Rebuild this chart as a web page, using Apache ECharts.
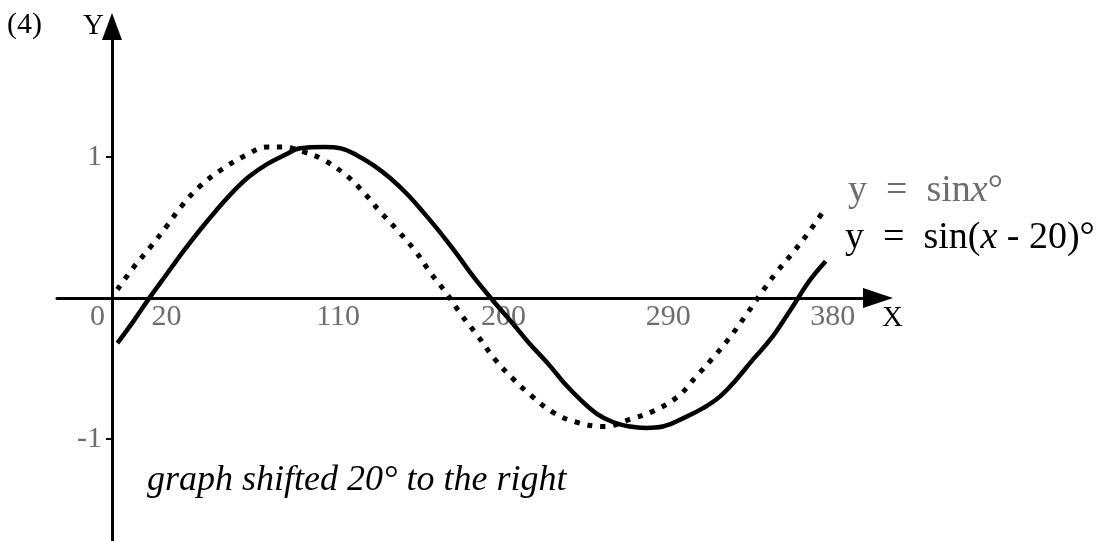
<!DOCTYPE html>
<html lang="en">
<head>
<meta charset="UTF-8">
<title>y = sin x° and y = sin(x - 20)°</title>
<script src="https://cdn.jsdelivr.net/npm/echarts@6/dist/echarts.min.js"></script>
<style>
  html, body { margin: 0; padding: 0; background: #fff; }
</style>
</head>
<body>
<div id="main" style="width: 1098px;height:541px;"></div>
<script>
  // values (x in degrees, y in units)
  const xTicks = [20, 110, 200, 290, 380];
  const yTicks = [-1, 1];

  // y = sin x°  (dotted)
  const sinX = [3, 12, 21, 30, 38, 48, 60, 73, 85, 93, 99, 106, 114, 126, 136, 146, 156, 166, 174, 183,
    191, 200, 209, 219, 229, 241, 254, 269, 283, 296, 309, 319, 328, 337, 346, 354, 363, 372, 381, 389];
  const sinY = [0.06, 0.22, 0.36, 0.51, 0.65, 0.79, 0.91, 1.01, 1.07, 1.07, 1.06, 1.03, 0.99, 0.89, 0.77, 0.62, 0.48, 0.33, 0.18, 0.03,
    -0.12, -0.27, -0.43, -0.57, -0.69, -0.81, -0.88, -0.91, -0.86, -0.80, -0.70, -0.56, -0.43, -0.29, -0.13, 0.02, 0.18, 0.32, 0.47, 0.62];

  // y = sin(x - 20)°  (solid)
  const shiftX = [3, 12, 21, 30, 39, 48, 57, 66, 75, 85, 94, 103, 116, 125, 134, 143, 152, 161, 170, 179, 188, 197,
    207, 219, 228, 238, 247, 256, 265, 274, 283, 292, 301, 314, 323, 332, 341, 350, 360, 369, 375, 381, 390];
  const shiftY = [-0.32, -0.16, 0.01, 0.17, 0.33, 0.48, 0.62, 0.75, 0.86, 0.95, 1.01, 1.06, 1.07, 1.06, 1.01, 0.94, 0.85, 0.74, 0.61, 0.47, 0.32, 0.16,
    0.00, -0.18, -0.32, -0.46, -0.60, -0.72, -0.82, -0.88, -0.91, -0.92, -0.91, -0.84, -0.78, -0.70, -0.58, -0.44, -0.29, -0.12, 0.00, 0.12, 0.26];

  const serif = '"Liberation Serif", "DejaVu Serif", serif';
  const grey = '#6d6d6d';

  const pairs = (xs, ys) => xs.map((x, i) => [x, ys[i]]);

  // the axes cross inside the grid: moved there with negative offsets
  const xMin = -30, xMax = 418.6;
  const xOffset = -243, yOffset = -55;

  const myChart = echarts.init(document.getElementById('main'));
  const option = {
    animation: false,
    grid: { left: 57, right: 220, top: 26.5, bottom: 0, containLabel: false, outerBoundsMode: 'none' },
    xAxis: [
      {
        type: 'value',
        min: xMin,
        max: xMax,
        offset: xOffset,
        splitLine: { show: false },
        axisTick: { show: false },
        axisLine: {
          onZero: false,
          lineStyle: { color: '#000', width: 3 },
          symbol: ['none', 'triangle'],
          symbolSize: [20, 30]
        },
        axisLabel: {
          customValues: xTicks,
          align: 'left',
          verticalAlign: 'top',
          margin: 4,
          padding: [0, 0, 0, 3],
          color: grey,
          fontFamily: serif,
          fontSize: 30
        }
      },
      {
        // only the "0" left of the origin
        type: 'value',
        position: 'bottom',
        min: xMin,
        max: xMax,
        offset: xOffset,
        splitLine: { show: false },
        axisTick: { show: false },
        axisLine: { show: false, onZero: false },
        axisLabel: {
          customValues: [0],
          align: 'right',
          verticalAlign: 'top',
          margin: 4,
          padding: [0, 7, 0, 0],
          color: grey,
          fontFamily: serif,
          fontSize: 30
        }
      }
    ],
    yAxis: {
      type: 'value',
      min: -1.721,
      max: 1.923,
      offset: yOffset,
      splitLine: { show: false },
      axisLine: {
        onZero: false,
        lineStyle: { color: '#000', width: 3 },
        symbol: ['none', 'triangle'],
        symbolSize: [20, 27]
      },
      axisTick: {
        customValues: yTicks,
        length: 6,
        lineStyle: { color: '#000', width: 2 }
      },
      axisLabel: {
        customValues: yTicks,
        margin: 10,
        color: grey,
        fontFamily: serif,
        fontSize: 30
      }
    },
    series: [
      {
        name: 'y = sin x°',
        type: 'line',
        data: pairs(sinX, sinY),
        smooth: 0.4,
        showSymbol: false,
        lineStyle: { color: '#000', width: 5, type: [5, 8], cap: 'butt' }
      },
      {
        name: 'y = sin(x - 20)°',
        type: 'line',
        data: pairs(shiftX, shiftY),
        smooth: 0.4,
        showSymbol: false,
        lineStyle: { color: '#000', width: 4.5 }
      }
    ],
    graphic: [
      { type: 'text', left: 7, top: 10, style: { text: '(4)', font: '30px ' + serif, fill: '#000' } },
      { type: 'text', x: 104, y: 26, style: { text: 'Y', font: '29px ' + serif, fill: '#000', align: 'right', verticalAlign: 'middle' } },
      { type: 'text', x: 882, y: 318, style: { text: 'X', font: '29px ' + serif, fill: '#000', verticalAlign: 'middle' } },
      {
        type: 'text', x: 848, y: 191,
        style: {
          text: 'y  =  sin{i|x}°',
          font: '38px ' + serif, fill: grey, verticalAlign: 'middle',
          rich: { i: { font: 'italic 38px ' + serif, fill: grey } }
        }
      },
      {
        type: 'text', x: 845, y: 238,
        style: {
          text: 'y  =  sin({i|x} - 20)°',
          font: '38px ' + serif, fill: '#000', verticalAlign: 'middle',
          rich: { i: { font: 'italic 38px ' + serif, fill: '#000' } }
        }
      },
      {
        type: 'text', x: 147, y: 481,
        style: { text: 'graph shifted 20° to the right', font: 'italic 36px ' + serif, fill: '#000', verticalAlign: 'middle' }
      }
    ]
  };
  myChart.setOption(option);
</script>
</body>
</html>
